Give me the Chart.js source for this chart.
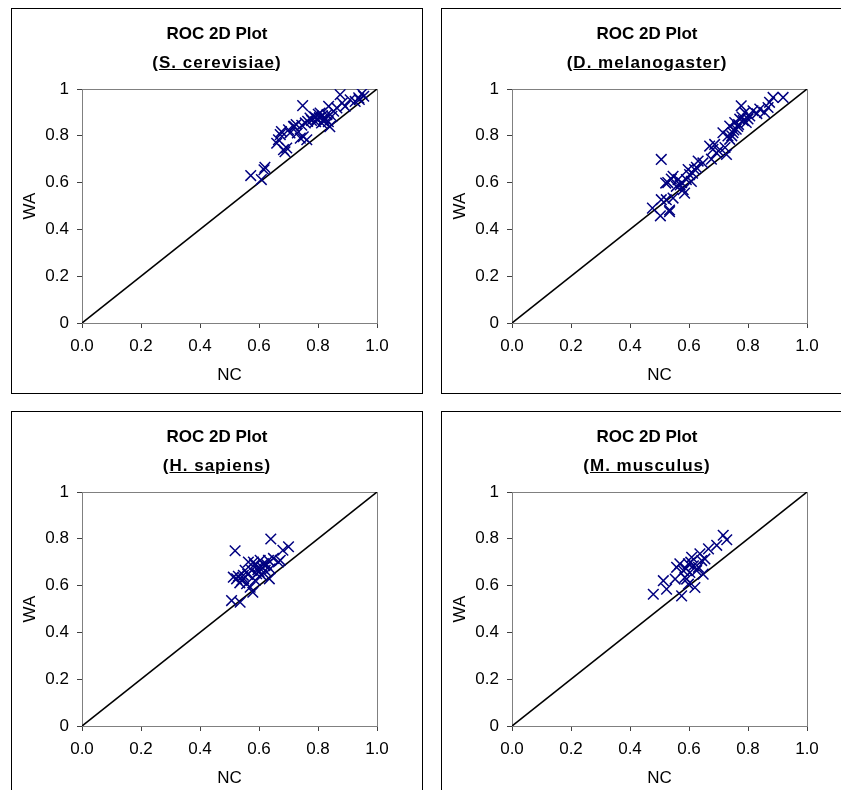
<!DOCTYPE html>
<html>
<head>
<meta charset="utf-8">
<script src="https://cdn.jsdelivr.net/npm/chart.js@4.4.1/dist/chart.umd.min.js"></script>
<style>
  html, body { margin: 0; padding: 0; background: #fff; overflow: hidden; }
  body { width: 841px; height: 790px; position: relative; }
  .panel { position: absolute; width: 410px; height: 384px; border: 1px solid #000; background: #fff; }
  .panel canvas { position: absolute; left: 0; top: 0; }
  .ttl { position: absolute; left: 0; width: 410px; text-align: center; font: bold 17px Arial, "Liberation Sans", sans-serif; color: #000; line-height: 20px; }
  .t1 { top: 15px; }
  .t2 { top: 44px; letter-spacing: 1px; }
</style>
</head>
<body>
<div class="panel" style="left:11px; top:8px;">
  <canvas id="c1" width="410" height="384"></canvas>
  <div class="ttl t1">ROC 2D Plot</div>
  <div class="ttl t2">(<u>S. cerevisiae</u>)</div>
</div>
<div class="panel" style="left:441px; top:8px;">
  <canvas id="c2" width="410" height="384"></canvas>
  <div class="ttl t1">ROC 2D Plot</div>
  <div class="ttl t2">(<u>D. melanogaster</u>)</div>
</div>
<div class="panel" style="left:11px; top:411px;">
  <canvas id="c3" width="410" height="384"></canvas>
  <div class="ttl t1">ROC 2D Plot</div>
  <div class="ttl t2">(<u>H. sapiens</u>)</div>
</div>
<div class="panel" style="left:441px; top:411px;">
  <canvas id="c4" width="410" height="384"></canvas>
  <div class="ttl t1">ROC 2D Plot</div>
  <div class="ttl t2">(<u>M. musculus</u>)</div>
</div>
<script>
// NC (x) and WA (y)
const cerevisiaeNC = [0.572, 0.608, 0.620, 0.617, 0.666, 0.672, 0.683, 0.694, 0.700, 0.717, 0.730, 0.748, 0.740, 0.757, 0.762, 0.773, 0.785, 0.796, 0.807, 0.819, 0.830, 0.836, 0.847, 0.864, 0.875, 0.892, 0.909, 0.926, 0.938, 0.955, 0.949, 0.790, 0.801, 0.812, 0.820, 0.765, 0.745, 0.720, 0.688, 0.750, 0.835, 0.840, 0.660, 0.676, 0.705, 0.726, 0.778, 0.792, 0.805, 0.815, 0.826, 0.853, 0.882, 0.940];
const cerevisiaeWA = [0.630, 0.613, 0.665, 0.655, 0.783, 0.805, 0.741, 0.748, 0.826, 0.840, 0.812, 0.929, 0.790, 0.855, 0.783, 0.876, 0.883, 0.872, 0.897, 0.862, 0.890, 0.926, 0.883, 0.919, 0.976, 0.926, 0.954, 0.947, 0.962, 0.969, 0.980, 0.880, 0.892, 0.855, 0.870, 0.862, 0.845, 0.840, 0.732, 0.796, 0.860, 0.839, 0.768, 0.818, 0.812, 0.848, 0.866, 0.860, 0.878, 0.886, 0.872, 0.905, 0.940, 0.955];

const melanogasterNC = [0.506, 0.476, 0.503, 0.534, 0.523, 0.534, 0.521, 0.546, 0.557, 0.580, 0.585, 0.591, 0.602, 0.608, 0.619, 0.631, 0.647, 0.670, 0.681, 0.693, 0.687, 0.727, 0.715, 0.732, 0.738, 0.749, 0.755, 0.760, 0.772, 0.777, 0.789, 0.794, 0.806, 0.817, 0.840, 0.856, 0.873, 0.885, 0.919, 0.868, 0.738, 0.506, 0.546, 0.563, 0.597, 0.765, 0.780, 0.745, 0.528, 0.540, 0.570, 0.575, 0.612, 0.625, 0.676, 0.700, 0.722, 0.752, 0.768, 0.784, 0.800, 0.830];
const melanogasterWA = [0.699, 0.491, 0.458, 0.483, 0.527, 0.476, 0.598, 0.627, 0.584, 0.570, 0.555, 0.613, 0.634, 0.605, 0.656, 0.692, 0.684, 0.756, 0.742, 0.727, 0.763, 0.720, 0.813, 0.799, 0.842, 0.813, 0.857, 0.828, 0.871, 0.928, 0.900, 0.857, 0.885, 0.907, 0.914, 0.900, 0.943, 0.964, 0.964, 0.921, 0.785, 0.527, 0.534, 0.613, 0.656, 0.840, 0.880, 0.800, 0.600, 0.615, 0.590, 0.600, 0.640, 0.665, 0.700, 0.735, 0.750, 0.825, 0.848, 0.865, 0.872, 0.895];

const sapiensNC = [0.519, 0.640, 0.700, 0.681, 0.507, 0.536, 0.579, 0.513, 0.524, 0.541, 0.547, 0.558, 0.564, 0.575, 0.581, 0.592, 0.598, 0.604, 0.615, 0.621, 0.632, 0.638, 0.635, 0.649, 0.666, 0.672, 0.570, 0.587, 0.553, 0.609, 0.530, 0.600, 0.620, 0.535, 0.548, 0.562, 0.585, 0.596, 0.612, 0.626];
const sapiensWA = [0.749, 0.799, 0.766, 0.751, 0.536, 0.529, 0.572, 0.636, 0.629, 0.622, 0.644, 0.608, 0.701, 0.665, 0.701, 0.651, 0.680, 0.708, 0.694, 0.665, 0.708, 0.672, 0.629, 0.716, 0.701, 0.708, 0.593, 0.622, 0.665, 0.644, 0.640, 0.660, 0.685, 0.612, 0.630, 0.648, 0.690, 0.668, 0.676, 0.690];

const musculusNC = [0.479, 0.513, 0.524, 0.553, 0.558, 0.575, 0.581, 0.586, 0.598, 0.603, 0.609, 0.620, 0.632, 0.637, 0.648, 0.654, 0.666, 0.694, 0.716, 0.728, 0.569, 0.592, 0.615, 0.598, 0.643, 0.590, 0.606, 0.626];
const musculusWA = [0.563, 0.621, 0.585, 0.628, 0.678, 0.556, 0.664, 0.635, 0.693, 0.656, 0.721, 0.592, 0.678, 0.736, 0.649, 0.714, 0.757, 0.772, 0.815, 0.796, 0.693, 0.628, 0.685, 0.606, 0.707, 0.672, 0.700, 0.664];

const diagNC = [0, 1];
const diagWA = [0, 1];

const xTicks = [0, 0.2, 0.4, 0.6, 0.8, 1.0];
const yTicks = [0, 0.2, 0.4, 0.6, 0.8, 1];

Chart.defaults.font.family = 'Arial, "Liberation Sans", sans-serif';
Chart.defaults.font.size = 17;
Chart.defaults.color = '#000';

const plotFrame = {
  id: 'plotFrame',
  beforeDatasetsDraw(chart) {
    const a = chart.chartArea;
    const ctx = chart.ctx;
    ctx.save();
    ctx.strokeStyle = '#808080';
    ctx.lineWidth = 1;
    ctx.strokeRect(Math.round(a.left) + 0.5, Math.round(a.top) + 0.5, Math.round(a.right - a.left), Math.round(a.bottom - a.top));
    ctx.restore();
  }
};

function toPoints(xs, ys) {
  return xs.map((x, i) => ({ x: x, y: ys[i] }));
}

function makeChart(id, xs, ys) {
  return new Chart(document.getElementById(id), {
    type: 'scatter',
    data: {
      datasets: [
        {
          data: toPoints(xs, ys),
          pointStyle: 'crossRot',
          pointRadius: 7.5,
          pointHoverRadius: 7.5,
          borderColor: '#000080',
          backgroundColor: '#000080',
          pointBorderWidth: 1.5
        },
        {
          type: 'line',
          data: toPoints(diagNC, diagWA),
          borderColor: '#000',
          borderWidth: 1.6,
          pointRadius: 0,
          fill: false
        }
      ]
    },
    options: {
      responsive: false,
      animation: false,
      events: [],
      layout: { padding: { top: 80, left: 8, right: 45, bottom: 7 } },
      plugins: { legend: { display: false }, tooltip: { enabled: false } },
      scales: {
        x: {
          type: 'linear',
          min: 0,
          max: 1,
          afterBuildTicks: s => { s.ticks = xTicks.map(v => ({ value: v })); },
          afterFit: s => { s.height = 63; },
          ticks: { padding: 8, callback: v => Number(v).toFixed(1) },
          grid: { drawOnChartArea: false, drawTicks: true, tickLength: 5, color: '#404040' },
          border: { display: true, color: '#404040' },
          title: { display: true, text: 'NC', padding: 0 }
        },
        y: {
          type: 'linear',
          min: 0,
          max: 1,
          afterBuildTicks: s => { s.ticks = yTicks.map(v => ({ value: v })); },
          afterFit: s => { s.width = 62; },
          ticks: {
            padding: 8,
            callback: v => (Math.abs(v) < 1e-9 || Math.abs(v - 1) < 1e-9) ? String(Math.round(v)) : Number(v).toFixed(1)
          },
          grid: { drawOnChartArea: false, drawTicks: true, tickLength: 5, color: '#404040' },
          border: { display: true, color: '#404040' },
          title: { display: true, text: 'WA', padding: 0 }
        }
      }
    },
    plugins: [plotFrame]
  });
}

makeChart('c1', cerevisiaeNC, cerevisiaeWA);
makeChart('c2', melanogasterNC, melanogasterWA);
makeChart('c3', sapiensNC, sapiensWA);
makeChart('c4', musculusNC, musculusWA);
</script>
</body>
</html>
